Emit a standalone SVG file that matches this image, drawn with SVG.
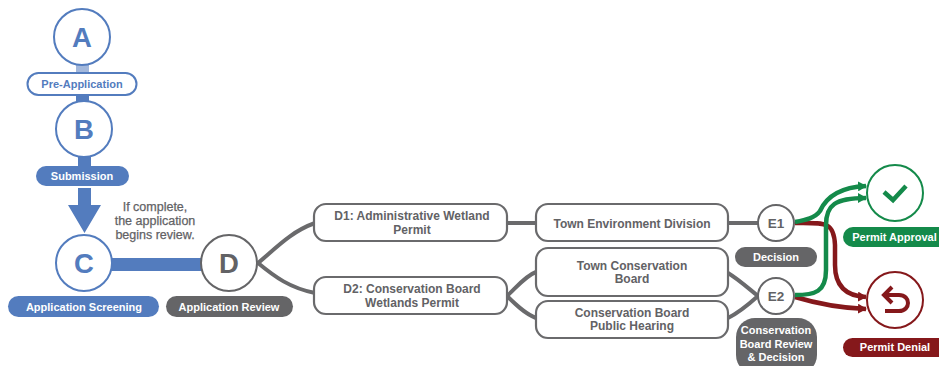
<svg xmlns="http://www.w3.org/2000/svg" width="939" height="366" viewBox="0 0 939 366">
<defs>
<style>
text{font-family:"Liberation Sans",Arial,sans-serif;font-weight:700;text-anchor:middle}
.lbl{font-size:11px;fill:#fff}
.box{fill:#fff;stroke:#6a6a6c;stroke-width:2.2}
.t{font-size:12px;fill:#626265}
.n{font-weight:400;font-size:12.5px;fill:#626265;stroke:#626265;stroke-width:.25}
.blue{fill:#fff;stroke:#537cbe;stroke-width:2}
.grey{fill:#fff;stroke:#656567;stroke-width:2}
.L{font-size:27.5px}
.LB{fill:#537cbe}
.LG{fill:#626265}
.e{font-size:13.5px;fill:#626265}
.con{fill:none;stroke-linecap:butt}
.g{stroke:#6a6a6c;stroke-width:4}
.gr{stroke:#148a4a;stroke-width:4.5}
.r{stroke:#85181b;stroke-width:4.5}
</style>
<marker id="ag" markerUnits="userSpaceOnUse" markerWidth="10" markerHeight="10" refX="8" refY="5" orient="auto"><path d="M0,0L9,5L0,10z" fill="#148a4a"/></marker>
<marker id="ar" markerUnits="userSpaceOnUse" markerWidth="10" markerHeight="10" refX="8" refY="5" orient="auto"><path d="M0,0L9,5L0,10z" fill="#85181b"/></marker>
</defs>
<g id="connectors">
<rect x="76" y="64" width="13" height="10" fill="#a3b8dc"/>
<rect x="76" y="94" width="13" height="9" fill="#537cbe"/>
<rect x="78" y="156" width="13" height="11" fill="#537cbe"/>
<path d="M78,188H91V205H101L84.500,233L68,205H78z" fill="#537cbe"/>
<rect x="110" y="258" width="94" height="13" fill="#537cbe"/>
<path class="con g" d="M258,263C275,249 290,232 315,223"/>
<path class="con g" d="M258,263C275,277 290,288 315,293"/>
<path class="con g" d="M507,223H536"/>
<path class="con g" d="M507,296C515,289 525,276 536,272"/>
<path class="con g" d="M507,296C515,304 525,314 536,318"/>
<path class="con g" d="M728,223H759"/>
<path class="con g" d="M728,273C738,279 748,288 758,296"/>
<path class="con g" d="M728,318C738,313 748,305 758,296"/>
<path class="con r" d="M795,223C825,223 834,221 835,245V265C835,285 845,296 866,297" marker-end="url(#ar)"/>
<path class="con r" d="M795,297C815,303 840,308 866,309" marker-end="url(#ar)"/>
<path class="con gr" d="M795,222C806,220 815,218 820,211C828,193 845,187 866,186" marker-end="url(#ag)"/>
<path class="con gr" d="M795,295C815,295 826,292 826,270V225C826,205 835,198 866,198" marker-end="url(#ag)"/>
</g>
<g id="node-a"><circle class="blue" cx="82" cy="37" r="28"/><text class="L LB" x="82" y="47">A</text></g>
<g id="pre-application"><rect class="blue" x="27.500" y="73" width="109" height="22" rx="11"/><text x="82" y="88" fill="#537cbe" style="font-size:11px">Pre-Application</text></g>
<g id="node-b"><circle class="blue" cx="84" cy="129" r="28"/><text class="L LB" x="84" y="139">B</text></g>
<g id="submission"><rect x="36" y="166" width="93" height="20" rx="10" fill="#537cbe"/><text class="lbl" x="82" y="180">Submission</text></g>
<g id="note"><text class="n" x="155" y="211">If complete,</text><text class="n" x="155" y="225">the application</text><text class="n" x="155" y="239">begins review.</text></g>
<g id="node-c"><circle class="blue" cx="84" cy="263" r="28"/><text class="L LB" x="84" y="272.500">C</text></g>
<g id="application-screening"><rect x="8" y="296" width="151" height="21" rx="10.500" fill="#537cbe"/><text class="lbl" x="84" y="311">Application Screening</text></g>
<g id="node-d"><circle class="grey" cx="229" cy="263" r="28"/><text class="L LG" x="229" y="272.500">D</text></g>
<g id="application-review"><rect x="166" y="296" width="127" height="21" rx="10.500" fill="#656567"/><text class="lbl" x="229" y="311">Application Review</text></g>
<g id="d1"><rect class="box" x="314" y="204" width="193" height="37" rx="12"/><text class="t" x="412" y="220">D1: Administrative Wetland</text><text class="t" x="412" y="234">Permit</text></g>
<g id="d2"><rect class="box" x="314" y="277" width="193" height="37" rx="12"/><text class="t" x="412" y="293">D2: Conservation Board</text><text class="t" x="412" y="307">Wetlands Permit</text></g>
<g id="town-env"><rect class="box" x="536" y="204" width="192" height="37" rx="12"/><text class="t" x="632" y="228">Town Environment Division</text></g>
<g id="town-board"><rect class="box" x="536" y="248" width="192" height="48" rx="12"/><text class="t" x="632" y="269.500">Town Conservation</text><text class="t" x="632" y="282.500">Board</text></g>
<g id="public-hearing"><rect class="box" x="536" y="301" width="192" height="37" rx="12"/><text class="t" x="632" y="316.500">Conservation Board</text><text class="t" x="632" y="329.500">Public Hearing</text></g>
<g id="e1"><circle class="grey" cx="776" cy="223" r="18"/><text class="e" x="776" y="228">E1</text></g>
<g id="decision"><rect x="735" y="247" width="82" height="20" rx="10" fill="#656567"/><text class="lbl" x="776" y="261">Decision</text></g>
<g id="e2"><circle class="grey" cx="776" cy="296" r="18"/><text class="e" x="776" y="301">E2</text></g>
<g id="board-decision"><rect x="736" y="318" width="81" height="56" rx="19" fill="#656567"/><text class="lbl" x="776" y="334">Conservation</text><text class="lbl" x="776" y="347.500">Board Review</text><text class="lbl" x="776" y="360.500">&amp; Decision</text></g>
<g id="approval"><circle cx="895" cy="193" r="28" fill="#fff" stroke="#148a4a" stroke-width="2"/><path d="M884,192L893,200L906,186" fill="none" stroke="#148a4a" stroke-width="4.500"/></g>
<g id="permit-approval"><rect x="843" y="227" width="110" height="20" rx="10" fill="#148a4a"/><text class="lbl" x="894.500" y="241">Permit Approval</text></g>
<g id="denial"><circle cx="895" cy="300" r="28" fill="#fff" stroke="#85181b" stroke-width="2"/><path d="M892,287L884,295L892,303M884,295H899C911,295 911,311 899,311H885" fill="none" stroke="#85181b" stroke-width="4"/></g>
<g id="permit-denial"><rect x="843" y="338" width="110" height="19" rx="9.500" fill="#85181b"/><text class="lbl" x="895" y="351">Permit Denial</text></g>
</svg>
